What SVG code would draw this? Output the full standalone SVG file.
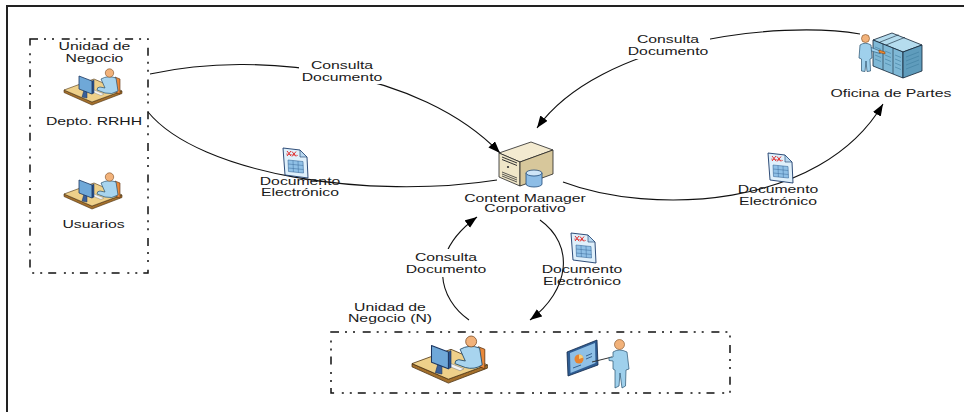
<svg xmlns="http://www.w3.org/2000/svg" width="964" height="412" viewBox="0 0 964 412">
  <style>
    .lbl { font-family: "Liberation Sans", Arial, sans-serif; font-size: 11.5px; fill: #1a1a1a; text-anchor: middle; }
    .conn { fill: none; stroke: #111; stroke-width: 1.1; }
    .box { fill: none; stroke: #111; stroke-width: 1.5; stroke-dasharray: 8 6 2 6 2 7.7; }
    .bg { fill: #fff; }
    .ol { stroke-linejoin: round; }
  </style>
  <defs>
    <marker id="arrow" markerUnits="userSpaceOnUse" markerWidth="13" markerHeight="10" refX="12" refY="4.5" orient="auto">
      <path d="M0,0 L12,4.5 L0,9 Z" fill="#000"/>
    </marker>

    <!-- worker sitting at a desk with a monitor -->
    <g id="deskUser" class="ol">
      <polygon points="0,22 28,34 58,23 58,25.5 28,37 0,24.5" fill="#a4702c" stroke="#4a3010" stroke-width="0.6"/>
      <polygon points="0,22 30,11 58,23 28,34" fill="#eed08a" stroke="#4a3010" stroke-width="0.6"/>
      <polygon points="51,9 56,11 56,26 51,24" fill="#e8883a" stroke="#5a2e0a" stroke-width="0.6"/>
      <path d="M37,11 Q44,7 52,10 L54,23 Q48,27 41,25 L33,22 Q33,19 36,19 L41,20 Z" fill="#a8d4ee" stroke="#27506e" stroke-width="0.7"/>
      <circle cx="45.5" cy="5" r="4.2" fill="#f2b27a" stroke="#7a4a20" stroke-width="0.6"/>
      <polygon points="30,22 40,26 37,27.5 27,23.5" fill="#f5f5f5" stroke="#777" stroke-width="0.4"/>
      <polygon points="20,22 23,23 23,30 18,29" fill="#3a5f98" stroke="#1c3660" stroke-width="0.5"/>
      <polygon points="28,13 30,12 30,25 28,26" fill="#2c5590" stroke="#1c3660" stroke-width="0.5"/>
      <polygon points="15,8 28,13 28,26 15,21" fill="#6fa8d8" stroke="#1c3660" stroke-width="0.8"/>
    </g>

    <!-- electronic document sheet -->
    <g id="doc" class="ol">
      <polygon points="0,0 17,2 24,9 25,30 2,27" fill="#dff0fb" stroke="#1a3a6a" stroke-width="0.9"/>
      <polygon points="17,2 17,9 24,9" fill="#b8d8f0" stroke="#1a3a6a" stroke-width="0.6"/>
      <path d="M4,3 L8,8 M8,3 L4,8 M9,3.5 L13,8.5 M13,3.5 L9,8.5" stroke="#e03030" stroke-width="1"/>
      <path d="M3,6 L15,7.5" stroke="#e03030" stroke-width="0.6"/>
      <polygon points="5,12 20,13.5 20.5,25 5.5,23.5" fill="#8fc0e6" stroke="#3a6a9a" stroke-width="0.6"/>
      <path d="M5.2,16 L20.2,17.5 M5.3,20 L20.4,21.5 M10,12.5 L10.4,24 M15,13 L15.4,24.5" stroke="#3a6a9a" stroke-width="0.5"/>
    </g>
  </defs>

  <rect width="964" height="412" fill="#fff"/>

  <!-- page frame -->
  <path d="M7,412 L7,6 L964,6" fill="none" stroke="#222" stroke-width="2"/>

  <!-- connectors -->
  <g id="connectors">
    <path class="conn" d="M150,74 C260,50 420,70 500,153" marker-end="url(#arrow)"/>
    <path class="conn" d="M148,112 C200,175 370,200 497,180"/>
    <path class="conn" d="M860,34 C780,20 600,40 537,128" marker-end="url(#arrow)"/>
    <path class="conn" d="M563,182 C650,215 820,210 883,104" marker-end="url(#arrow)"/>
    <path class="conn" d="M469,320 C440,300 425,255 477,217" marker-end="url(#arrow)"/>
    <path class="conn" d="M540,220 C575,245 570,290 530,320" marker-end="url(#arrow)"/>
  </g>

  <!-- connector labels -->
  <g id="connector-labels">
    <rect class="bg" x="299" y="56" width="87" height="28"/>
    <text class="lbl" transform="translate(342,69) scale(1.37,1)"><tspan x="0">Consulta</tspan><tspan x="0" dy="12">Documento</tspan></text>

    <rect class="bg" x="626" y="31" width="84" height="28"/>
    <text class="lbl" transform="translate(668,43) scale(1.37,1)"><tspan x="0">Consulta</tspan><tspan x="0" dy="12">Documento</tspan></text>

    <rect class="bg" x="404" y="249" width="84" height="28"/>
    <text class="lbl" transform="translate(446,261) scale(1.37,1)"><tspan x="0">Consulta</tspan><tspan x="0" dy="12">Documento</tspan></text>

    <use href="#doc" x="283" y="148"/>
    <text class="lbl" transform="translate(300,185) scale(1.37,1)"><tspan x="0">Documento</tspan><tspan x="0" dy="11.5">Electrónico</tspan></text>

    <use href="#doc" x="768" y="153"/>
    <text class="lbl" transform="translate(778,193) scale(1.37,1)"><tspan x="0">Documento</tspan><tspan x="0" dy="12">Electrónico</tspan></text>

    <use href="#doc" x="571" y="233"/>
    <text class="lbl" transform="translate(582,273) scale(1.37,1)"><tspan x="0">Documento</tspan><tspan x="0" dy="12">Electrónico</tspan></text>
  </g>

  <!-- business unit (left) -->
  <g id="unidad-negocio">
    <rect class="box" x="30" y="39" width="118" height="234"/>
    <text class="lbl" transform="translate(94.5,50) scale(1.37,1)"><tspan x="0">Unidad de</tspan><tspan x="0" dy="12">Negocio</tspan></text>
  </g>

  <g id="depto-rrhh">
    <use href="#deskUser" x="64" y="68"/>
    <text class="lbl" transform="translate(94,125) scale(1.37,1)">Depto. RRHH</text>
  </g>

  <g id="usuarios">
    <use href="#deskUser" x="64" y="172"/>
    <text class="lbl" transform="translate(93.5,228) scale(1.37,1)">Usuarios</text>
  </g>

  <!-- central content manager server -->
  <g id="content-manager" class="ol">
    <g transform="translate(498,142)">
      <polygon points="1,11 33,0 55,8 22,20" fill="#f3ead0" stroke="#222" stroke-width="0.8"/>
      <polygon points="1,11 22,20 22,44 1,35" fill="#efe6c8" stroke="#222" stroke-width="0.8"/>
      <polygon points="22,20 55,8 55,32 22,44" fill="#d7c79b" stroke="#222" stroke-width="0.8"/>
      <path d="M4,15 L19,21 M4,17.5 L19,23.5" stroke="#333" stroke-width="1"/>
      <path d="M4,30 L19,36 M4,32 L19,38 M4,34 L19,40" stroke="#333" stroke-width="0.8"/>
      <circle cx="10" cy="25" r="1.1" fill="#333"/>
      <path d="M28,31 L28,42 A8,3 0 0 0 44,42 L44,31 Z" fill="#8dbde6" stroke="#1f4a7a" stroke-width="0.8"/>
      <ellipse cx="36" cy="31" rx="8" ry="3" fill="#cfe6f8" stroke="#1f4a7a" stroke-width="0.8"/>
    </g>
    <text class="lbl" transform="translate(525,201.5) scale(1.37,1)"><tspan x="0">Content Manager</tspan><tspan x="0" dy="11">Corporativo</tspan></text>
  </g>

  <!-- records office with filing cabinets -->
  <g id="oficina-partes" class="ol">
    <g transform="translate(858,33)">
      <polygon points="15,7 34,0 64,12 45,19" fill="#b5dcee" stroke="#123" stroke-width="0.8"/>
      <polygon points="15,7 45,19 45,45 15,33" fill="#7fb8d6" stroke="#123" stroke-width="0.8"/>
      <polygon points="45,19 64,12 64,38 45,45" fill="#5f9cbc" stroke="#123" stroke-width="0.8"/>
      <path d="M25,11 L25,37 M35,15 L35,41 M40.5,1.8 L21,9.5 M47,4.3 L28,12" stroke="#123" stroke-width="0.6"/>
      <path d="M17,14 L23,16.5 M17,18 L23,20.5 M17,22 L23,24.5 M17,26 L23,28.5 M27,18 L33,20.5 M27,22 L33,24.5 M27,26 L33,28.5 M27,30 L33,32.5 M37,22 L43,24.5 M37,26 L43,28.5 M37,30 L43,32.5 M37,34 L43,36.5 M48,24 L61,19 M48,28 L61,23 M48,32 L61,27 M48,36 L61,31" stroke="#3f7ea0" stroke-width="0.6"/>
      <path d="M12,14 L22,18 L22,20.5 L12,17.5 Z" fill="#9fd0ec" stroke="#27506e" stroke-width="0.6"/>
      <polygon points="21,17 27,19 27,21 21,19.5" fill="#f08a30" stroke="#7a3a0a" stroke-width="0.5"/>
      <path d="M2,12 Q7,8.5 13,12 L14,25 L12,26 L12.5,38 L9,38.5 L8,28 L7,38.5 L3.5,38 L3.5,26 L1,25 Z" fill="#9fd0ec" stroke="#27506e" stroke-width="0.7"/>
      <circle cx="7.5" cy="5.5" r="4" fill="#f2b27a" stroke="#7a4a20" stroke-width="0.6"/>
    </g>
    <text class="lbl" transform="translate(891,96.5) scale(1.37,1)">Oficina de Partes</text>
  </g>

  <!-- business unit (N), bottom -->
  <g id="unidad-negocio-n">
    <rect class="box" x="331" y="332" width="399" height="61"/>
    <text class="lbl" transform="translate(390,310.5) scale(1.37,1)"><tspan x="0">Unidad de</tspan><tspan x="0" dy="11.5">Negocio (N)</tspan></text>
    <use href="#deskUser" transform="translate(412,335) scale(1.3)"/>
    <g class="ol" transform="translate(567,338)">
      <polygon points="0,14 30,2 31,27 1,38" fill="#2f5d93" stroke="#12284a" stroke-width="0.8"/>
      <polygon points="3,15 28,5 28.5,25 3.5,35" fill="#8fc0e6"/>
      <circle cx="12" cy="21" r="4.5" fill="#e8842f"/>
      <path d="M12,21 L12,16.5 A4.5,4.5 0 0 1 16.3,19.5 Z" fill="#f6d07a"/>
      <path d="M19,18 L25,15.5 M19,21 L25,18.5 M6,30 L14,27" stroke="#1f4a7a" stroke-width="0.8"/>
      <path d="M25,24 L45,19" stroke="#333" stroke-width="1"/>
      <path d="M46,14 Q52,10 60,14 L62,31 L59,32 L58.5,48 L55,50 L53,35 L52,48 L48,50 L48,32 L46,31 L46,23 L42,22.5 L42,19.5 L46,19 Z" fill="#9fd0ec" stroke="#27506e" stroke-width="0.7"/>
      <circle cx="52.5" cy="6.5" r="5" fill="#f2b27a" stroke="#7a4a20" stroke-width="0.6"/>
    </g>
  </g>
</svg>
